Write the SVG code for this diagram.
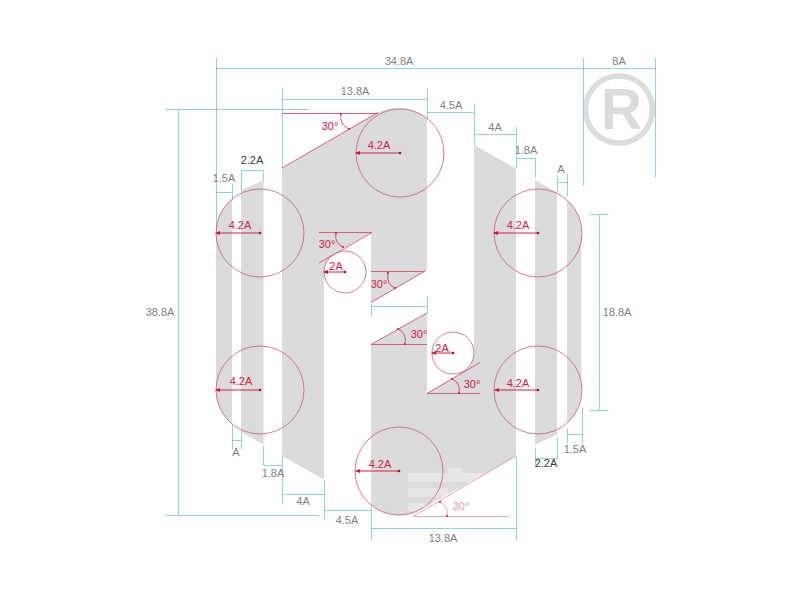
<svg xmlns="http://www.w3.org/2000/svg" width="801" height="599" viewBox="0 0 801 599">
<style>
text{font-family:"Liberation Sans",Arial,sans-serif;font-size:11px}
.g{fill:#808080;text-anchor:middle}
.k{fill:#3a3a3a;text-anchor:middle}
.r{fill:#d62045;text-anchor:middle}
.p{fill:#e8939f;text-anchor:middle}
.s{fill:#dadbdb}
.d{stroke:#86cbe0;stroke-width:.9;fill:none}
.c{stroke:#cf5a72;stroke-width:.8;fill:none}
.l{stroke:#d8506c;stroke-width:.9;fill:none}
.a{stroke:#d62045;stroke-width:1;fill:none;marker-start:url(#ah);marker-end:url(#dot)}
.b{stroke:#c8284c;stroke-width:.8;fill:none;marker-start:url(#sm);marker-end:url(#sm)}
</style>
<defs>
<marker id="ah" markerWidth="6" markerHeight="6" refX="1" refY="3" orient="auto" markerUnits="userSpaceOnUse"><path d="M0,3 L5,1 L5,5 Z" fill="#d2143c"/></marker>
<marker id="dot" markerWidth="4" markerHeight="4" refX="2" refY="2" markerUnits="userSpaceOnUse"><circle cx="2" cy="2" r="1.3" fill="#a8102e"/></marker>
<marker id="sm" markerWidth="4" markerHeight="4" refX="2" refY="2" markerUnits="userSpaceOnUse"><circle cx="2" cy="2" r="1.100" fill="#c8284c"/></marker>
</defs>

<g id="logo">
<path class="s" d="M282,168 L378,112.500 A44,44 0 0 1 427,118.500 L427,270 L371,302.500 L371,232 L335,253 A21,21 0 0 0 324,272 L324,479.500 L282,456 Z"/>
<path class="s" d="M474,145 L516,168.500 L516,456 L421,509.500 A44,44 0 0 1 371,505 L371,344.500 L427,313 L427,393.500 L464,371.500 A21,21 0 0 0 474,353 Z"/>
<path class="s" d="M241,190.500 L263.500,180 L263.500,444.500 L241,432 Z"/>
<path class="s" d="M216,233 A44,44 0 0 1 232,199.500 L232,424 A44,44 0 0 1 216,390 Z"/>
<path class="s" d="M535,180 L557,192.500 L557,434.500 L535,445 Z"/>
<path class="s" d="M567,200 A44,44 0 0 1 581.500,233 L581.500,390 A44,44 0 0 1 567,423 Z"/>
</g>

<g id="watermark" fill="#fff" fill-opacity=".3">
<rect x="408" y="473" width="76" height="9"/>
<rect x="408" y="488" width="40" height="9"/>
<rect x="408" y="503" width="21" height="8"/>
<rect x="448" y="468" width="13" height="5"/>
</g>

<g id="registered-mark">
<circle cx="619" cy="109.500" r="33.500" fill="none" stroke="#dcdcdc" stroke-width="5.500"/>
<text x="601" y="129" style="font-size:57px;font-weight:bold;fill:#dcdcdc">R</text>
</g>

<g id="connectors" transform="translate(.5 .5)">
<path class="d" d="M216,68 H655 M216,57 V234 M583,57 V185 M655,57 V177"/>
<path class="d" d="M282,99 H427 M282,88 V168 M427,88 V118"/>
<path class="d" d="M427,112 H474 M474,104 V145"/>
<path class="d" d="M474,134 H516 M516,126 V168"/>
<path class="d" d="M516,158 H535 M535,158 V177"/>
<path class="d" d="M557,182 H567 M557,175 V192 M567,173 V196"/>
<path class="d" d="M599,214 V410 M589,214 H608 M589,410 H608"/>
<path class="d" d="M567,434 H582 M567,428 V443 M582,407 V443"/>
<path class="d" d="M535,458 H557 M535,447 V465 M557,437 V458"/>
<path class="d" d="M371,528 H516 M371,505 V539 M516,456 V539"/>
<path class="d" d="M324,510 H371 M324,480 V520"/>
<path class="d" d="M282,494 H324 M282,456 V503"/>
<path class="d" d="M263,465 H282 M263,445 V465"/>
<path class="d" d="M232,440 H241 M232,424 V449 M241,432 V449"/>
<path class="d" d="M178,109 V515 M165,109 H308 M165,515 H318"/>
<path class="d" d="M241,170 H263 M241,170 V190 M263,170 V180"/>
<path class="d" d="M216,192 H232 M232,183 V200"/>
<path class="d" d="M371,306 H427 M427,296 V313 M371,303 V315"/>
</g>

<g id="circles">
<circle class="c" cx="400" cy="153" r="44"/>
<circle class="c" cx="260" cy="233" r="44"/>
<circle class="c" cx="260" cy="390" r="44"/>
<circle class="c" cx="538" cy="233" r="44"/>
<circle class="c" cx="538" cy="390" r="44"/>
<circle class="c" cx="399" cy="471" r="44"/>
<circle class="c" cx="345" cy="272" r="21"/>
<circle class="c" cx="453" cy="353" r="21"/>
</g>

<g id="radii">
<path class="a" d="M356,153 H400"/>
<path class="a" d="M216,233 H260"/>
<path class="a" d="M216,390 H260"/>
<path class="a" d="M494,233 H538"/>
<path class="a" d="M495,390 H538"/>
<path class="a" d="M356,471 H399"/>
<path class="a" d="M324,272 H345"/>
<path class="a" d="M432,353 H453"/>
</g>

<g id="angles">
<path class="l" d="M282,113.500 H378 M282,168 L378,112.500"/>
<path class="b" d="M341,114 Q339,124 349,129"/>
<path class="l" d="M319,232.500 H372 M319,263 L372,232.500"/>
<path class="b" d="M336,233 Q334,243 343,247"/>
<path class="l" d="M371,271.500 H425 M371,302.500 L425,271"/>
<path class="b" d="M388,273 Q386,284 395,288"/>
<path class="l" d="M371,344.500 H427 M371,344.500 L427,313"/>
<path class="b" d="M398,329 Q407,333 405,344"/>
<path class="l" d="M427,393.500 H480 M427,393.500 L480,362.500"/>
<path class="b" d="M452,379 Q461,383 459,393"/>
<path class="l" d="M413,516.500 H508 M413,516.500 L516,456" style="stroke:#ea9aaa"/>
<path class="b" d="M440,502 Q449,506 447,516" style="stroke:#e58a9c"/>
</g>

<g id="labels">
<text class="g" x="399" y="65">34.8A</text>
<text class="g" x="619" y="65">8A</text>
<text class="g" x="355" y="95">13.8A</text>
<text class="g" x="451" y="109">4.5A</text>
<text class="g" x="495" y="131">4A</text>
<text class="g" x="526" y="154">1.8A</text>
<text class="g" x="561" y="173">A</text>
<text class="g" x="224" y="182">1.5A</text>
<text class="k" x="252" y="164">2.2A</text>
<text class="g" x="160" y="316">38.8A</text>
<text class="g" x="617" y="316">18.8A</text>
<text class="g" x="236" y="456">A</text>
<text class="g" x="273" y="477">1.8A</text>
<text class="g" x="303" y="505">4A</text>
<text class="g" x="347" y="524">4.5A</text>
<text class="g" x="443" y="542">13.8A</text>
<text class="g" x="575" y="453">1.5A</text>
<text class="k" x="546" y="467">2.2A</text>
<text class="r" x="379" y="149">4.2A</text>
<text class="r" x="240" y="229">4.2A</text>
<text class="r" x="241" y="385">4.2A</text>
<text class="r" x="518" y="229">4.2A</text>
<text class="r" x="518" y="387">4.2A</text>
<text class="r" x="380" y="468">4.2A</text>
<text class="r" x="336" y="270">2A</text>
<text class="r" x="442" y="352">2A</text>
<text class="r" x="330" y="130">30°</text>
<text class="r" x="327" y="248">30°</text>
<text class="r" x="379" y="288">30°</text>
<text class="r" x="419" y="338">30°</text>
<text class="r" x="472" y="388">30°</text>
<text class="p" x="461" y="510">30°</text>
</g>
</svg>
